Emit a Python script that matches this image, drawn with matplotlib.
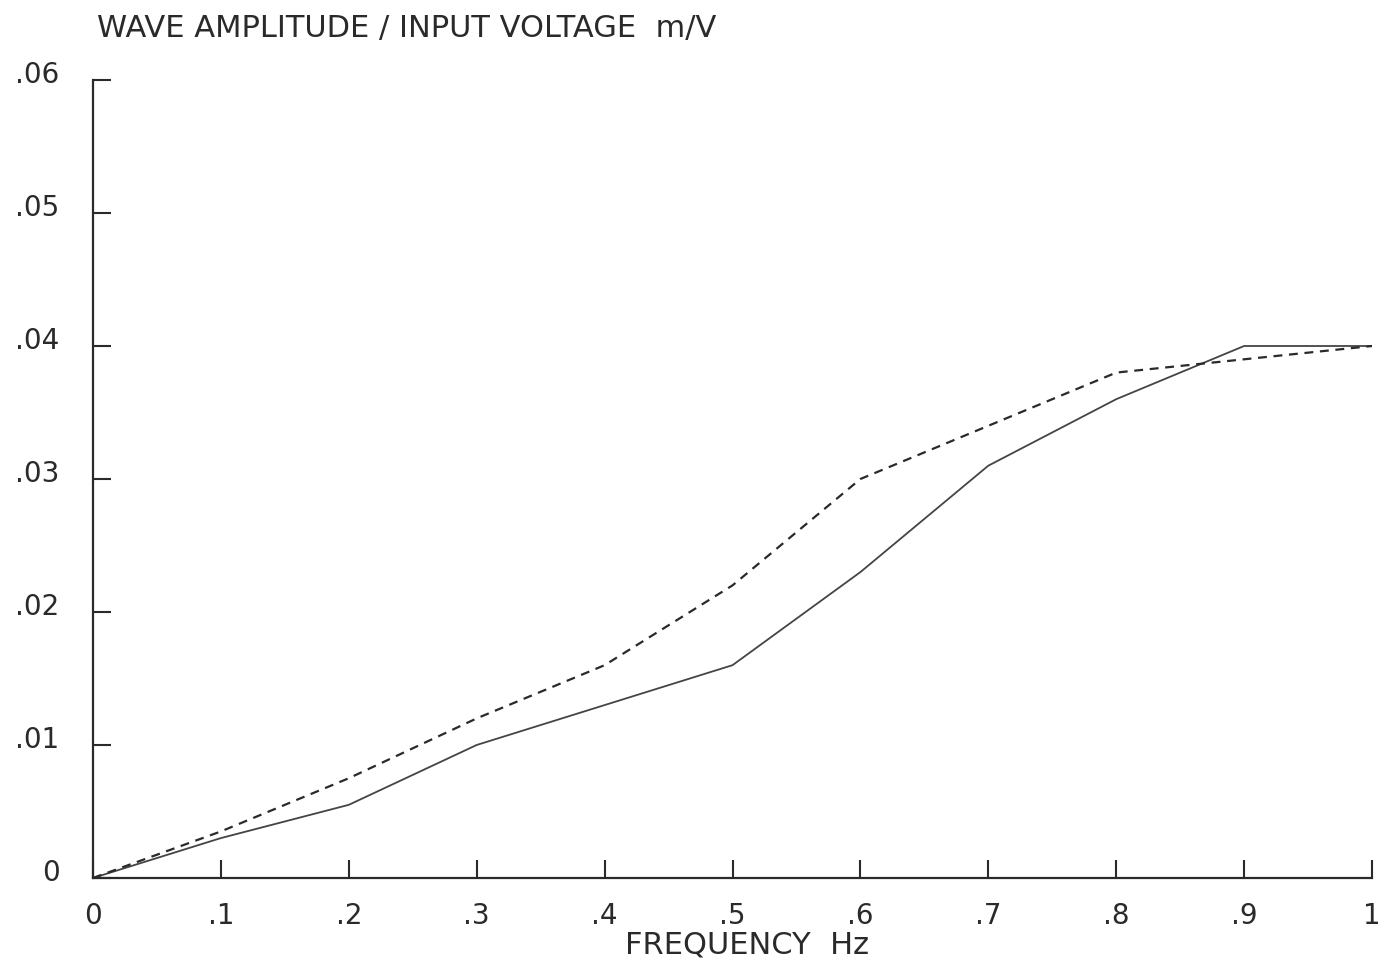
import matplotlib

matplotlib.use("Agg")
import matplotlib.pyplot as plt
import matplotlib.transforms as mtransforms

freq = [0, 0.1, 0.2, 0.3, 0.4, 0.5, 0.6, 0.7, 0.8, 0.9, 1.0]
solid = [0, 0.003, 0.0055, 0.010, 0.013, 0.016, 0.023, 0.031, 0.036, 0.040, 0.040]
dashed = [0, 0.0035, 0.0075, 0.012, 0.016, 0.022, 0.030, 0.034, 0.038, 0.039, 0.040]

xticks = [0, 0.1, 0.2, 0.3, 0.4, 0.5, 0.6, 0.7, 0.8, 0.9, 1.0]
xlabels = ["0", ".1", ".2", ".3", ".4", ".5", ".6", ".7", ".8", ".9", "1"]
yticks = [0, 0.01, 0.02, 0.03, 0.04, 0.05, 0.06]
ylabels = ["0", ".01", ".02", ".03", ".04", ".05", ".06"]

plt.rcParams["font.family"] = ["DejaVu Sans"]
ink = "#2a2a2a"

fig = plt.figure(figsize=(13.86, 9.71), dpi=100)
ax = fig.add_axes([0.0671, 0.0958, 0.9228, 0.8218])

ax.plot(freq, solid, color="#444444", lw=1.3)
ax.plot(freq, dashed, color=ink, lw=1.6, ls=(0, (4, 3)))

ax.set_xlim(0, 1)
ax.set_ylim(0, 0.06)
ax.set_xticks(xticks, xlabels)
ax.set_yticks(yticks, ylabels)
ax.tick_params(direction="in", length=13, width=1.5, color=ink, labelsize=20, labelcolor=ink)
ax.tick_params(axis="x", pad=17)
ax.tick_params(axis="y", pad=24)
for s in ["top", "right"]:
    ax.spines[s].set_visible(False)
for s in ["left", "bottom"]:
    ax.spines[s].set_linewidth(1.6)
    ax.spines[s].set_color(ink)

# y labels sit a little above their ticks in the original
up = mtransforms.ScaledTranslation(0, 8 / 100, fig.dpi_scale_trans)
for lab in ax.get_yticklabels():
    lab.set_transform(lab.get_transform() + up)

fig.text(0.07, 0.971, "WAVE AMPLITUDE / INPUT VOLTAGE  m/V", fontsize=22, color=ink, va="center")
fig.text(0.539, 0.027, "FREQUENCY  Hz", fontsize=22, color=ink, ha="center", va="center")

plt.savefig("out.png", facecolor="white")
plt.close()
